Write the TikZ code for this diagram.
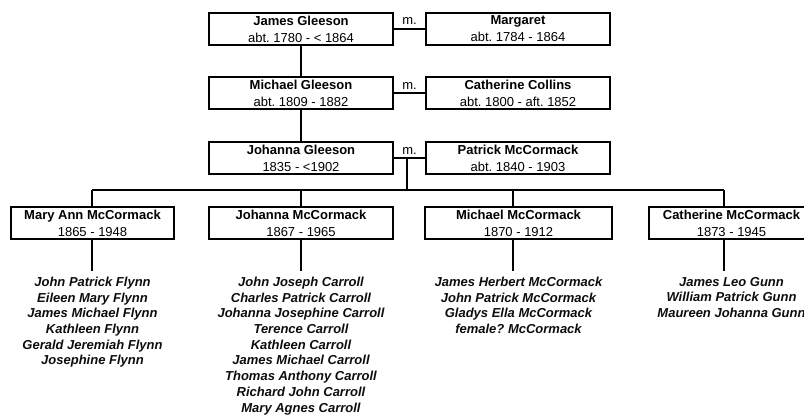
\documentclass[tikz,border=0pt]{standalone}
\usepackage{fontspec}
\setmainfont{Liberation Sans}
\usetikzlibrary{calc}
\frenchspacing

\begin{document}
\begin{tikzpicture}[x=1pt, y=-1pt, line width=2pt,
  person/.style={draw, fill=white, minimum width=184pt, minimum height=32pt, inner sep=0pt, align=center, font=\fontsize{13}{17}\selectfont},
  kids/.style={anchor=north, align=center, inner xsep=0pt, inner ysep=5pt, text=black!95, font=\fontsize{13}{15.7}\selectfont\bfseries\itshape},
  wed/.style={inner sep=0pt, font=\fontsize{13}{13}\selectfont}]
\useasboundingbox (0,0) rectangle (804,415);
\clip (0,0) rectangle (804,415);

% ancestors
\node[person] (g1) at (301,29) {\textbf{James Gleeson}\\abt. 1780 - < 1864};
\node[person] (w1) at (518,29) {\textbf{Margaret}\\abt. 1784 - 1864};
\node[person] (g2) at (301,93) {\textbf{Michael Gleeson}\\abt. 1809 - 1882};
\node[person] (w2) at (518,93) {\textbf{Catherine Collins}\\abt. 1800 - aft. 1852};
\node[person] (g3) at (301,158) {\textbf{Johanna Gleeson}\\1835 - <1902};
\node[person] (w3) at (518,158) {\textbf{Patrick McCormack}\\abt. 1840 - 1903};

\node[wed] (m1) at (409.5,21.5) {m.};
\node[wed] (m2) at (409.5,86) {m.};
\node[wed] (m3) at (409.5,151) {m.};

% children
\node[person, minimum width=163pt] (c1) at (92.5,223) {\textbf{Mary Ann McCormack}\\1865 - 1948};
\node[person] (c2) at (301,223) {\textbf{Johanna McCormack}\\1867 - 1965};
\node[person, minimum width=187pt] (c3) at (518.5,223) {\textbf{Michael McCormack}\\1870 - 1912};
\node[person, minimum width=165pt] (c4) at (731.5,223) {\textbf{Catherine McCormack}\\1873 - 1945};

% grandchildren
\node[kids] (l1) at ($(c1.south)+(0,31)$) {John Patrick Flynn\\Eileen Mary Flynn\\James Michael Flynn\\Kathleen Flynn\\Gerald Jeremiah Flynn\\Josephine Flynn};
\node[kids] (l2) at ($(c2.south)+(0,31)$) {John Joseph Carroll\\Charles Patrick Carroll\\Johanna Josephine Carroll\\Terence Carroll\\Kathleen Carroll\\James Michael Carroll\\Thomas Anthony Carroll\\Richard John Carroll\\Mary Agnes Carroll};
\node[kids] (l3) at ($(c3.south)+(0,31)$) {James Herbert McCormack\\John Patrick McCormack\\Gladys Ella McCormack\\female? McCormack};
\node[kids] (l4) at ($(c4.south)+(0,31)$) {James Leo Gunn\\William Patrick Gunn\\Maureen Johanna Gunn};

% marriages and descent
\draw (g1) -- (w1);
\draw (g2) -- (w2);
\draw (g3) -- (w3);
\draw (g1) -- (g2);
\draw (g2) -- (g3);

\coordinate (fam) at (407,158);
\coordinate (bar) at (407,190);
\coordinate (k1) at ($(c1.north)+(-0.5,0)$);
\coordinate (k2) at ($(c2.north)+(0,0)$);
\coordinate (k3) at ($(c3.north)+(-5.5,0)$);
\coordinate (k4) at ($(c4.north)+(-7.5,0)$);

\draw (fam) -- (bar);
\draw (k1 |- bar) -- (k4 |- bar);
\foreach \k/\c/\l in {k1/c1/l1, k2/c2/l2, k3/c3/l3, k4/c4/l4} {
  \draw (\k |- bar) -- (\k);
  \draw (\k |- \c.south) -- (\k |- \l.north);
}
\end{tikzpicture}
\end{document}
